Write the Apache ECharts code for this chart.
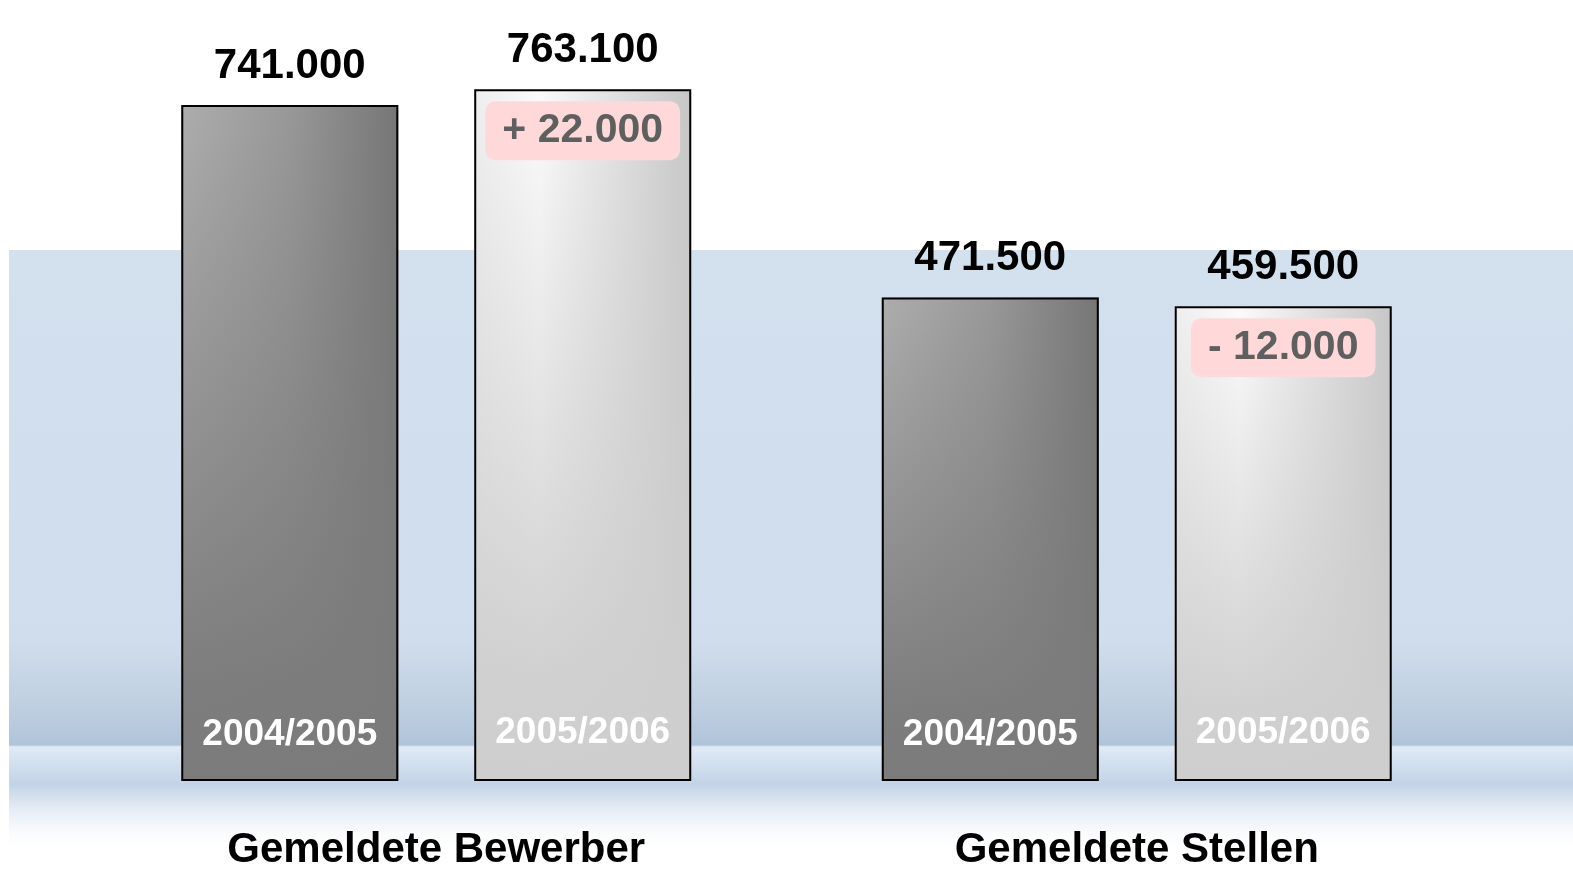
<!DOCTYPE html>
<html>
<head>
<meta charset="utf-8">
<title>Gemeldete Bewerber / Stellen</title>
<script src="https://cdn.jsdelivr.net/npm/echarts@6/dist/echarts.min.js"></script>
<style>
  html, body { margin: 0; padding: 0; background: #fff; }
  #chart { width: 1573px; height: 871px; }
</style>
</head>
<body>
<div id="chart"></div>
<script>
// Daten
const categories = ['Gemeldete Bewerber', 'Gemeldete Stellen']
const years = ['2004/2005', '2005/2006']
const values2004 = [741000, 471500]
const values2005 = [763100, 459500]
const changes = ['+ 22.000', '- 12.000']

const FONT = 'Liberation Sans, Arial, sans-serif'
const fmt = v => String(v).replace(/\B(?=(\d{3})+(?!\d))/g, '.')

const darkFill = new echarts.graphic.LinearGradient(0, 0, 1, 0, [
  { offset: 0, color: '#adadad' },
  { offset: 0.5, color: '#989898' },
  { offset: 1, color: '#767676' }
])
const lightFill = new echarts.graphic.LinearGradient(0, 0, 1, 0, [
  { offset: 0, color: '#eeeeee' },
  { offset: 0.3, color: '#fbfbfb' },
  { offset: 1, color: '#c6c6c6' }
])
// vertikaler Schatten ueber den Balken
const darkShade = new echarts.graphic.LinearGradient(0, 0, 0, 1, [
  { offset: 0, color: 'rgba(123,123,123,0)' },
  { offset: 0.85, color: 'rgba(123,123,123,0.95)' },
  { offset: 1, color: 'rgba(123,123,123,1)' }
])
const lightShade = new echarts.graphic.LinearGradient(0, 0, 0, 1, [
  { offset: 0, color: 'rgba(206,206,206,0)' },
  { offset: 0.85, color: 'rgba(206,206,206,0.95)' },
  { offset: 1, color: 'rgba(206,206,206,1)' }
])

const BAR_W = 217
const BAR_GAP = '35%'

function hiddenAxis () {
  return { type: 'category', data: categories, show: false, gridIndex: 0 }
}

const chart = echarts.init(document.getElementById('chart'))
chart.setOption({
  animation: false,
  // Hintergrundband
  graphic: [{
    type: 'rect',
    z: -10,
    silent: true,
    shape: { x: 9, y: 250, width: 1564, height: 600 },
    style: {
      fill: new echarts.graphic.LinearGradient(0, 0, 0, 1, [
        { offset: 0, color: '#d3e0ee' },
        { offset: 0.65, color: '#d0ddec' },
        { offset: 0.76, color: '#bfcfe1' },
        { offset: 0.825, color: '#b0c4d9' },
        { offset: 0.828, color: '#e2eaf5' },
        { offset: 0.855, color: '#d3e0ef' },
        { offset: 0.89, color: '#c3d3e6' },
        { offset: 0.935, color: '#e8eef6' },
        { offset: 0.975, color: '#fbfcfe' },
        { offset: 1, color: '#ffffff' }
      ])
    }
  }],
  grid: { left: 86, right: 86, top: 0, bottom: 87 },
  xAxis: [
    {
      type: 'category',
      data: categories,
      axisLine: { show: false },
      axisTick: { show: false },
      axisLabel: {
        margin: 48,
        color: '#000',
        fontFamily: FONT,
        fontWeight: 'bold',
        fontSize: 42
      }
    },
    hiddenAxis(),
    hiddenAxis()
  ],
  yAxis: {
    type: 'value',
    min: -205000,
    max: 888000,
    startValue: -205000,
    show: false,
    splitLine: { show: false }
  },
  series: [
    {
      name: years[0],
      type: 'bar',
      data: values2004,
      barWidth: BAR_W,
      barGap: BAR_GAP,
      itemStyle: { color: darkFill },
      label: {
        show: true, position: 'top', distance: 18,
        formatter: p => fmt(p.value),
        color: '#000', fontFamily: FONT, fontWeight: 'bold', fontSize: 42
      }
    },
    {
      name: years[1],
      type: 'bar',
      data: values2005,
      barWidth: BAR_W,
      barGap: BAR_GAP,
      itemStyle: { color: lightFill },
      label: {
        show: true, position: 'top', distance: 18,
        formatter: p => fmt(p.value),
        color: '#000', fontFamily: FONT, fontWeight: 'bold', fontSize: 42
      }
    },
    // Schatten, Rahmen und Jahreslabels
    {
      type: 'bar', xAxisIndex: 1, data: values2004, barWidth: BAR_W, barGap: BAR_GAP,
      itemStyle: { color: darkShade, borderColor: '#000', borderWidth: 2 }, silent: true,
      label: {
        show: true, position: 'insideBottom', distance: 28,
        formatter: () => years[0],
        color: '#fff', fontFamily: FONT, fontWeight: 'bold', fontSize: 37
      }
    },
    {
      type: 'bar', xAxisIndex: 1, data: values2005, barWidth: BAR_W, barGap: BAR_GAP,
      itemStyle: { color: lightShade, borderColor: '#000', borderWidth: 2 }, silent: true,
      label: {
        show: true, position: 'insideBottom', distance: 30,
        formatter: () => years[1],
        color: '#fff', fontFamily: FONT, fontWeight: 'bold', fontSize: 37
      }
    },
    // Veraenderung oben im zweiten Balken
    {
      type: 'bar', xAxisIndex: 2, data: values2004, barWidth: BAR_W, barGap: BAR_GAP,
      itemStyle: { color: 'transparent' }, silent: true, label: { show: false }
    },
    {
      type: 'bar', xAxisIndex: 2, data: values2005, barWidth: BAR_W, barGap: BAR_GAP,
      itemStyle: { color: 'transparent' }, silent: true,
      label: {
        show: true, position: 'insideTop', distance: 12,
        formatter: p => changes[p.dataIndex],
        color: '#5f5f5f', fontFamily: FONT, fontWeight: 'bold', fontSize: 41,
        backgroundColor: '#ffd9d9', borderRadius: 10,
        padding: [9, 17, 9, 17]
      }
    }
  ]
})
</script>
</body>
</html>
